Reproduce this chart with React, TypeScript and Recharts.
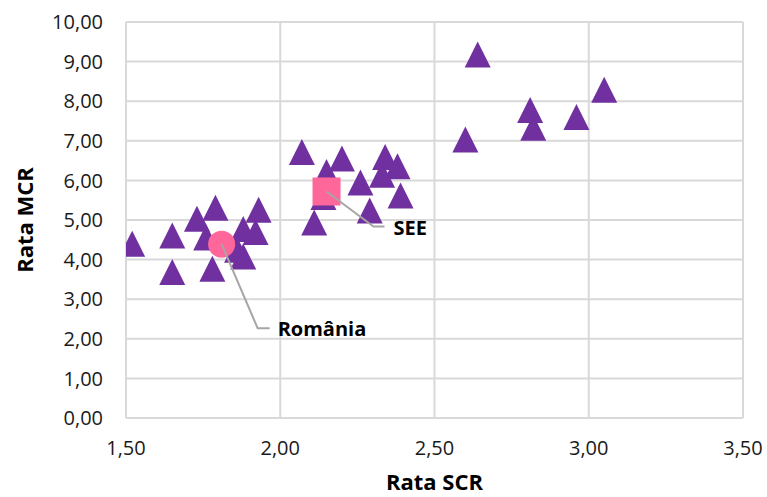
import React from 'react';
import { ScatterChart, Scatter, XAxis, YAxis, CartesianGrid } from 'recharts';

// Country values (Rata SCR, Rata MCR)
const countryScr = [1.52, 1.65, 1.65, 1.73, 1.79, 1.76, 1.78, 1.88, 1.93, 1.92, 1.88, 1.86, 2.07, 2.15, 2.2, 2.34, 2.38, 2.26, 2.33, 2.39, 2.29, 2.14, 2.11, 2.64, 3.05, 2.81, 2.82, 2.96, 2.6];
const countryMcr = [4.4, 4.61, 3.69, 5.03, 5.31, 4.56, 3.77, 4.77, 5.26, 4.7, 4.08, 4.25, 6.72, 6.21, 6.55, 6.59, 6.36, 5.95, 6.14, 5.62, 5.24, 5.58, 4.94, 9.18, 8.29, 7.78, 7.33, 7.6, 7.03];

const romaniaName = 'România';
const romaniaScr = 1.81;
const romaniaMcr = 4.39;

const seeName = 'SEE';
const seeScr = 2.15;
const seeMcr = 5.72;

const xTicks = [1.5, 2, 2.5, 3, 3.5];
const yTicks = [0, 1, 2, 3, 4, 5, 6, 7, 8, 9, 10];

const xTitle = 'Rata SCR';
const yTitle = 'Rata MCR';

const countries = countryScr.map((x, i) => ({ scr: x, mcr: countryMcr[i] }));
const romania = [{ scr: romaniaScr, mcr: romaniaMcr, name: romaniaName }];
const see = [{ scr: seeScr, mcr: seeMcr, name: seeName }];

const fmt = (v: number) => v.toFixed(2).replace('.', ',');

const FONT = "'Open Sans', sans-serif";
const PURPLE = '#7030A0';
const PINK = '#FF6699';
const LEADER = '#A6A6A6';

const Triangle = (p: any) => {
  const { cx, cy } = p;
  const h = 13;
  return (
    <polygon
      points={`${cx},${cy - h} ${cx + h},${cy + h} ${cx - h},${cy + h}`}
      fill={PURPLE}
    />
  );
};

const RomaniaShape = (p: any) => {
  const { cx, cy, payload } = p;
  return (
    <g>
      <circle cx={cx} cy={cy} r={13.5} fill={PINK} />
      <path
        d={`M${cx},${cy} L${cx + 36},${cy + 84} L${cx + 48},${cy + 84}`}
        stroke={LEADER}
        strokeWidth={2}
        fill="none"
      />
      <text x={cx + 56} y={cy + 85} dy="0.36em" fontFamily={FONT} fontWeight={700} fontSize={20} fill="#000">
        {payload.name}
      </text>
    </g>
  );
};

const SeeShape = (p: any) => {
  const { cx, cy, payload } = p;
  return (
    <g>
      <rect x={cx - 14} y={cy - 14} width={28} height={28} fill={PINK} />
      <path
        d={`M${cx},${cy} L${cx + 47},${cy + 35} L${cx + 58},${cy + 35}`}
        stroke={LEADER}
        strokeWidth={2}
        fill="none"
      />
      <text x={cx + 67} y={cy + 36} dy="0.36em" fontFamily={FONT} fontWeight={700} fontSize={20} fill="#000">
        {payload.name}
      </text>
    </g>
  );
};

const tickStyle = { fontFamily: FONT, fontSize: 20, fill: '#1a1a1a' };

export default function App() {
  return (
    <div style={{ position: 'absolute', left: 0, top: 0, background: '#fff' }}>
      <ScatterChart width={767} height={497} margin={{ top: 22, right: 24, bottom: 0, left: 0 }}>
        <CartesianGrid stroke="#D9D9D9" strokeWidth={2} />
        <XAxis
          type="number"
          dataKey="scr"
          domain={[1.5, 3.5]}
          ticks={xTicks}
          tickFormatter={fmt}
          height={79}
          axisLine={{ stroke: '#D9D9D9', strokeWidth: 2 }}
          tickLine={false}
          tickSize={0}
          tickMargin={23}
          tick={tickStyle}
          allowDataOverflow
          label={{
            value: xTitle,
            position: 'insideBottom',
            offset: 7,
            style: { fontFamily: FONT, fontWeight: 700, fontSize: 22, fill: '#000' },
          }}
        />
        <YAxis
          type="number"
          dataKey="mcr"
          domain={[0, 10]}
          ticks={yTicks}
          tickFormatter={fmt}
          width={126}
          axisLine={{ stroke: '#D9D9D9', strokeWidth: 2 }}
          tickLine={false}
          tickSize={0}
          tickMargin={23}
          tick={tickStyle}
          allowDataOverflow
          label={{
            value: yTitle,
            angle: -90,
            position: 'insideLeft',
            offset: 25,
            style: { fontFamily: FONT, fontWeight: 700, fontSize: 22, fill: '#000', textAnchor: 'middle' },
          }}
        />
        <Scatter data={countries} shape={Triangle} isAnimationActive={false} />
        <Scatter data={romania} shape={RomaniaShape} isAnimationActive={false} />
        <Scatter data={see} shape={SeeShape} isAnimationActive={false} />
      </ScatterChart>
    </div>
  );
}
